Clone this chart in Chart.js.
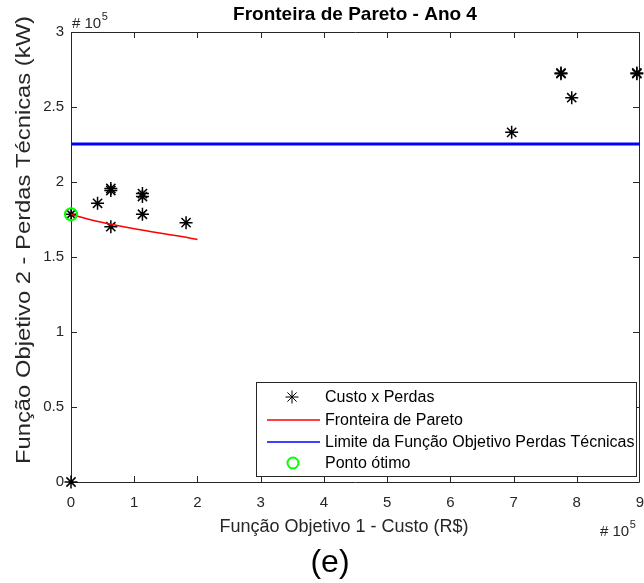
<!DOCTYPE html>
<html>
<head>
<meta charset="utf-8">
<script src="https://cdn.jsdelivr.net/npm/chart.js@4.4.1/dist/chart.umd.min.js"></script>
<style>
  html, body { margin: 0; padding: 0; background: #fff; }
  #wrap { width: 644px; height: 583px; }
</style>
</head>
<body>
<div id="wrap"><canvas id="chart" width="644" height="583"></canvas></div>
<script>
// values in units of 10^5 (both axes)
const custoX  = [0, 0, 0.42, 0.63, 0.63, 0.63, 1.13, 1.13, 1.13, 1.82, 6.97, 7.75, 7.75, 7.92, 8.95, 8.95];
const perdasY = [0, 1.785, 1.858, 1.957, 1.943, 1.702, 1.923, 1.903, 1.785, 1.729, 2.331, 2.727, 2.722, 2.562, 2.727, 2.722];

const paretoX = [0, 0.25, 0.5, 0.75, 1, 1.25, 1.5, 1.75, 2];
const paretoY = [1.785, 1.755, 1.73, 1.708, 1.688, 1.67, 1.653, 1.636, 1.617];

const limiteX = [0, 9];
const limiteY = [2.253, 2.253];

const otimoX = [0];
const otimoY = [1.785];

const xTicks = [0, 1, 2, 3, 4, 5, 6, 7, 8, 9];
const yTicks = [0, 0.5, 1, 1.5, 2, 2.5, 3];

const titulo = "Fronteira de Pareto - Ano 4";
const rotuloX = "Função Objetivo 1 - Custo (R$)";
const rotuloY = "Função Objetivo 2 - Perdas Técnicas (kW)";
const legendas = ["Custo x Perdas", "Fronteira de Pareto", "Limite da Função Objetivo Perdas Técnicas", "Ponto ótimo"];

const FONT = '"Liberation Sans", Arial, sans-serif';
const AXIS = "#262626";

const pts = (xs, ys) => xs.map((x, i) => ({ x: x, y: ys[i] }));

const decor = {
  id: "decor",
  beforeDatasetsDraw(chart) {
    const ctx = chart.ctx, a = chart.chartArea;
    const sx = chart.scales.x, sy = chart.scales.y;
    ctx.save();
    ctx.strokeStyle = AXIS;
    ctx.lineWidth = 1;
    ctx.beginPath();
    ctx.rect(Math.round(a.left) + 0.5, Math.round(a.top) + 0.5, Math.round(a.right - a.left) - 1, Math.round(a.bottom - a.top));
    ctx.stroke();
    ctx.beginPath();
    xTicks.forEach(v => {
      const px = Math.min(Math.round(sx.getPixelForValue(v)), a.right - 1) + 0.5;
      ctx.moveTo(px, a.bottom); ctx.lineTo(px, a.bottom - 6);
      ctx.moveTo(px, a.top); ctx.lineTo(px, a.top + 6);
    });
    yTicks.forEach(v => {
      const py = Math.round(sy.getPixelForValue(v)) + 0.5;
      ctx.moveTo(a.left, py); ctx.lineTo(a.left + 6, py);
      ctx.moveTo(a.right - 1, py); ctx.lineTo(a.right - 7, py);
    });
    ctx.stroke();
    ctx.restore();
  },
  afterDatasetsDraw(chart) {
    const ctx = chart.ctx;
    ctx.save();
    // legend box
    const bx = 256.5, by = 382.5, bw = 380, bh = 94;
    ctx.fillStyle = "#fff";
    ctx.fillRect(bx, by, bw, bh);
    ctx.strokeStyle = AXIS;
    ctx.lineWidth = 1;
    ctx.strokeRect(bx, by, bw, bh);
    const rows = [397, 420, 442, 463];
    const ds = chart.data.datasets;
    ctx.font = "16px " + FONT;
    ctx.textBaseline = "middle";
    ctx.textAlign = "left";
    rows.forEach((ry, i) => {
      const d = ds[i];
      if (i === 0) {
        ctx.strokeStyle = "#000";
        ctx.fillStyle = "#000";
        Chart.helpers.drawPoint(ctx, { pointStyle: "star", radius: 6.5, rotation: 0, borderWidth: 1.5 }, 292, ry);
      } else if (i === 3) {
        ctx.strokeStyle = d.borderColor; ctx.lineWidth = 2;
        ctx.beginPath(); ctx.arc(293, ry, 5.5, 0, Math.PI * 2); ctx.stroke();
      } else {
        ctx.strokeStyle = d.borderColor; ctx.lineWidth = 1.5;
        ctx.beginPath(); ctx.moveTo(267, ry); ctx.lineTo(320, ry); ctx.stroke();
      }
      ctx.fillStyle = "#000";
      ctx.fillText(d.label, 325, ry + 1);
    });

    // title
    ctx.fillStyle = "#000";
    ctx.font = "bold 19px " + FONT;
    ctx.textAlign = "center";
    ctx.textBaseline = "alphabetic";
    ctx.fillText(titulo, 355, 20);

    // axis labels
    ctx.fillStyle = AXIS;
    ctx.font = "18px " + FONT;
    ctx.fillText(rotuloX, 344, 532);

    ctx.save();
    ctx.translate(30, 240);
    ctx.rotate(-Math.PI / 2);
    ctx.font = "20px " + FONT;
    const w = ctx.measureText(rotuloY).width;
    ctx.scale(448 / w, 1);
    ctx.fillText(rotuloY, 0, 0);
    ctx.restore();

    // exponent markers
    const expo = (x, y) => {
      ctx.textAlign = "left";
      ctx.font = "15px " + FONT;
      ctx.fillText("# 10", x, y);
      const w2 = ctx.measureText("# 10").width;
      ctx.font = "11px " + FONT;
      ctx.fillText("5", x + w2 + 0.5, y - 8);
    };
    ctx.fillStyle = AXIS;
    expo(72, 28);
    expo(600, 536);

    // caption
    ctx.fillStyle = "#000";
    ctx.textAlign = "center";
    ctx.font = "32px " + FONT;
    ctx.fillText("(e)", 330, 572);
    ctx.restore();
  }
};

new Chart(document.getElementById("chart"), {
  type: "scatter",
  data: {
    datasets: [
      {
        label: legendas[0],
        data: pts(custoX, perdasY),
        pointStyle: "star",
        pointRadius: 6.5,
        borderColor: "#000",
        backgroundColor: "#000",
        pointBorderWidth: 1.5,
        showLine: false,
        clip: false,
        order: 3
      },
      {
        type: "line",
        label: legendas[1],
        data: pts(paretoX, paretoY),
        borderColor: "#ff0000",
        borderWidth: 1.5,
        pointRadius: 0,
        tension: 0.4,
        fill: false,
        order: 2
      },
      {
        type: "line",
        label: legendas[2],
        data: pts(limiteX, limiteY),
        borderColor: "#0000ff",
        borderWidth: 3,
        pointRadius: 0,
        fill: false,
        order: 1
      },
      {
        label: legendas[3],
        data: pts(otimoX, otimoY),
        pointStyle: "circle",
        pointRadius: 6,
        borderColor: "#00ff00",
        backgroundColor: "rgba(0,0,0,0)",
        pointBorderWidth: 2,
        clip: false,
        order: 0
      }
    ]
  },
  options: {
    responsive: false,
    animation: false,
    events: [],
    layout: { autoPadding: false, padding: { top: 32, right: 4, left: 0, bottom: 0 } },
    plugins: { legend: { display: false }, tooltip: { enabled: false }, title: { display: false } },
    scales: {
      x: {
        type: "linear", min: 0, max: 9,
        afterFit(s) { s.height = 101; s.paddingLeft = 0; s.paddingRight = 0; },
        afterBuildTicks(s) { s.ticks = xTicks.map(v => ({ value: v })); },
        grid: { display: false, drawTicks: false },
        border: { display: false },
        ticks: { color: AXIS, font: { family: FONT, size: 15 }, padding: 12, maxRotation: 0, callback: v => String(v) }
      },
      y: {
        type: "linear", min: 0, max: 3,
        afterFit(s) { s.width = 71; s.paddingTop = 0; s.paddingBottom = 0; },
        afterBuildTicks(s) { s.ticks = yTicks.map(v => ({ value: v })); },
        grid: { display: false, drawTicks: false },
        border: { display: false },
        ticks: { color: AXIS, font: { family: FONT, size: 15 }, padding: 7, callback: v => String(v) }
      }
    }
  },
  plugins: [decor]
});
</script>
</body>
</html>
